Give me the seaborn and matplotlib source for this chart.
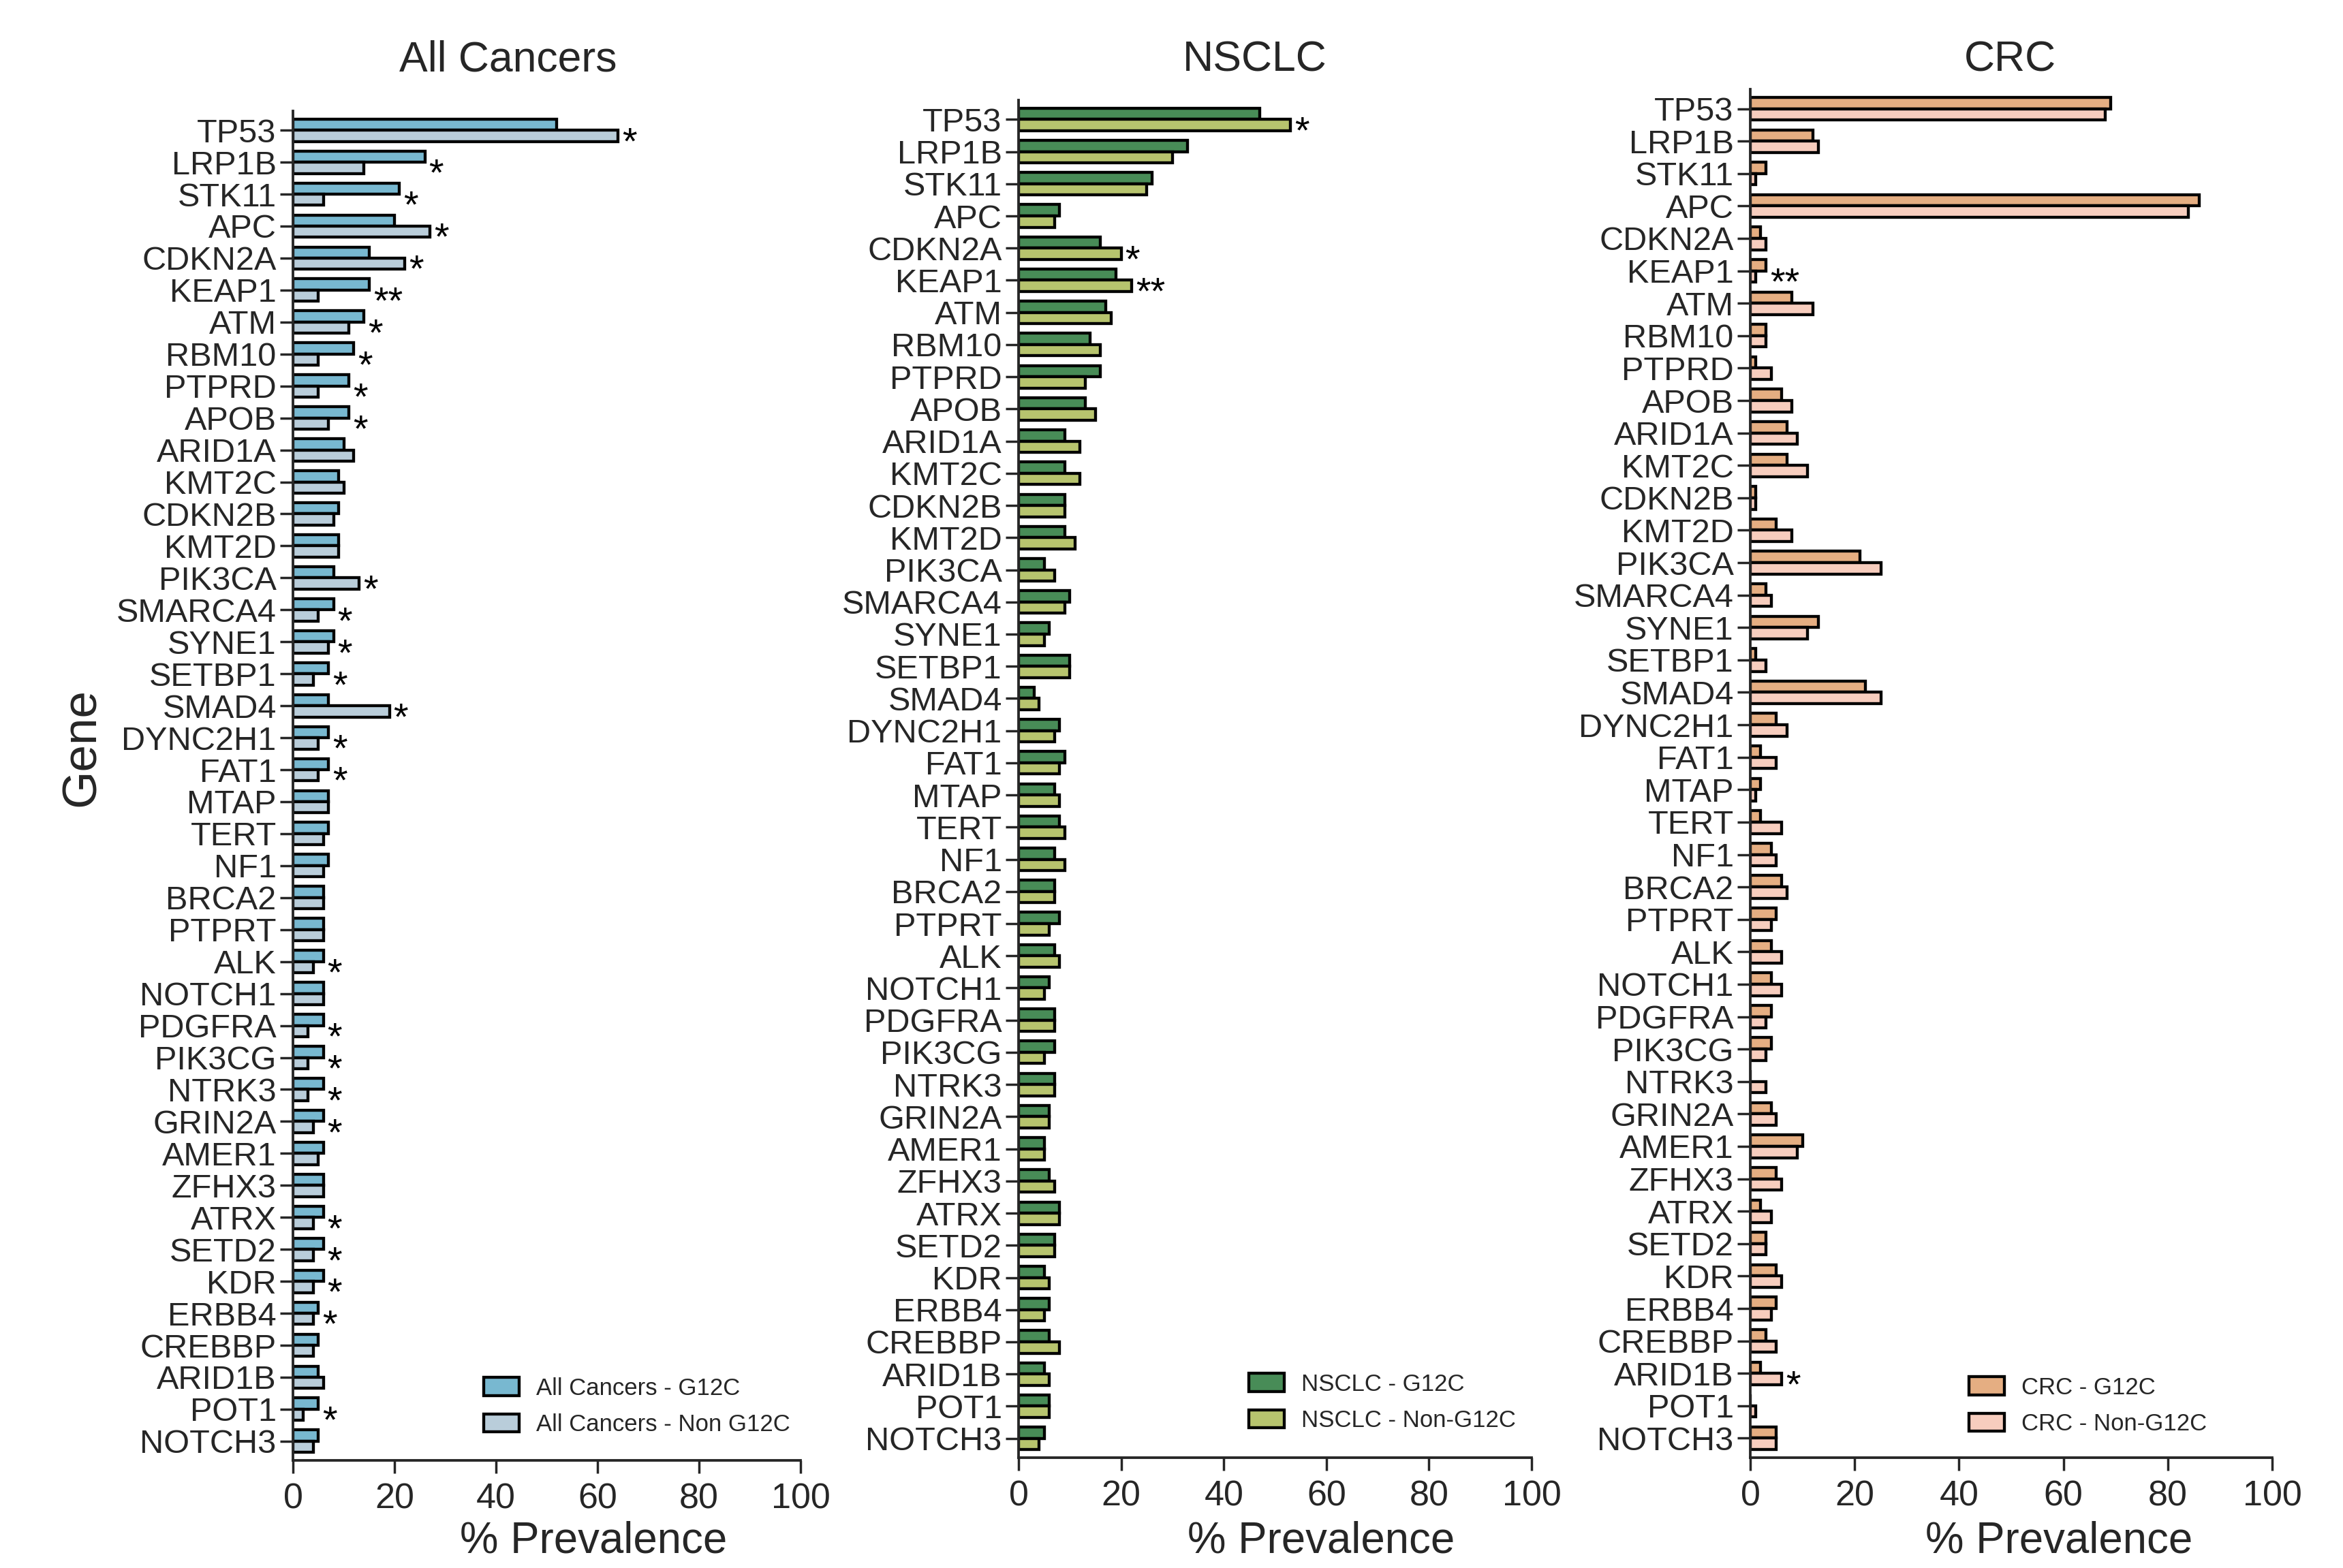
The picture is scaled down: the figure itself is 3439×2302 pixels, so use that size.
import numpy as np
import pandas as pd
import matplotlib
matplotlib.use("Agg")
import matplotlib.pyplot as plt
import seaborn as sns

# ---------------- data ----------------
genes = ["TP53", "LRP1B", "STK11", "APC", "CDKN2A", "KEAP1", "ATM", "RBM10", "PTPRD",
         "APOB", "ARID1A", "KMT2C", "CDKN2B", "KMT2D", "PIK3CA", "SMARCA4", "SYNE1",
         "SETBP1", "SMAD4", "DYNC2H1", "FAT1", "MTAP", "TERT", "NF1", "BRCA2", "PTPRT",
         "ALK", "NOTCH1", "PDGFRA", "PIK3CG", "NTRK3", "GRIN2A", "AMER1", "ZFHX3", "ATRX",
         "SETD2", "KDR", "ERBB4", "CREBBP", "ARID1B", "POT1", "NOTCH3"]

all_g12c = [52, 26, 21, 20, 15, 15, 14, 12, 11, 11, 10, 9, 9, 9,
            8, 8, 8, 7, 7, 7, 7, 7, 7, 7,
            6, 6, 6, 6, 6, 6, 6, 6, 6, 6, 6, 6, 6,
            5, 5, 5, 5, 5]
all_non = [64, 14, 6, 27, 22, 5, 11, 5, 5, 7, 12, 10, 8, 9,
           13, 5, 7, 4, 19, 5, 5, 7, 6, 6,
           6, 6, 4, 6, 3, 3, 3, 4, 5, 6, 4, 4, 4,
           4, 4, 6, 2, 4]
nsclc_g12c = [47, 33, 26, 8, 16, 19, 17, 14, 16, 13, 9, 9, 9, 9,
              5, 10, 6, 10, 3, 8, 9, 7, 8, 7,
              7, 8, 7, 6, 7, 7, 7, 6, 5, 6, 8, 7, 5,
              6, 6, 5, 6, 5]
nsclc_non = [53, 30, 25, 7, 20, 22, 18, 16, 13, 15, 12, 12, 9, 11,
             7, 9, 5, 10, 4, 7, 8, 8, 9, 9,
             7, 6, 8, 5, 7, 5, 7, 6, 5, 7, 8, 7, 6,
             5, 8, 6, 6, 4]
crc_g12c = [69, 12, 3, 86, 2, 3, 8, 3, 1, 6, 7, 7, 1, 5,
            21, 3, 13, 1, 22, 5, 2, 2, 2, 4,
            6, 5, 4, 4, 4, 4, 0, 4, 10, 5, 2, 3, 5,
            5, 3, 2, 0, 5]
crc_non = [68, 13, 1, 84, 3, 1, 12, 3, 4, 8, 9, 11, 1, 8,
           25, 4, 11, 3, 25, 7, 5, 1, 6, 5,
           7, 4, 6, 6, 3, 3, 3, 5, 9, 6, 4, 3, 6,
           4, 5, 6, 1, 5]

all_sig = {"TP53": "*", "LRP1B": "*", "STK11": "*", "APC": "*", "CDKN2A": "*",
           "KEAP1": "**", "ATM": "*", "RBM10": "*", "PTPRD": "*", "APOB": "*",
           "PIK3CA": "*", "SMARCA4": "*", "SYNE1": "*", "SETBP1": "*", "SMAD4": "*",
           "DYNC2H1": "*", "FAT1": "*", "ALK": "*", "PDGFRA": "*", "PIK3CG": "*",
           "NTRK3": "*", "GRIN2A": "*", "ATRX": "*", "SETD2": "*", "KDR": "*",
           "ERBB4": "*", "POT1": "*"}
nsclc_sig = {"TP53": "*", "CDKN2A": "*", "KEAP1": "**"}
crc_sig = {"KEAP1": "**", "ARID1B": "*"}

titles = ["All Cancers", "NSCLC", "CRC"]
series_labels = [["All Cancers - G12C", "All Cancers - Non G12C"],
                 ["NSCLC - G12C", "NSCLC - Non-G12C"],
                 ["CRC - G12C", "CRC - Non-G12C"]]
x_ticks = [0, 20, 40, 60, 80, 100]

# ---------------- style ----------------
sns.set_style("ticks")
plt.rcParams["font.family"] = ["Liberation Sans", "DejaVu Sans"]
plt.rcParams["axes.linewidth"] = 1.1

W, H = 3439, 2302
fig = plt.figure(figsize=(W / 250, H / 250), dpi=250)

palettes = [["#78B8D0", "#B9CDDA"],
            ["#488C57", "#B7C46E"],
            ["#E5AE82", "#F7CDBE"]]

# axes rects in pixel coordinates (left, top, right, bottom)
rects_px = [(430, 163, 1175, 2144),
            (1495, 147, 2248, 2140),
            (2569, 131, 3335, 2140)]
title_x_px = [746, 1842, 2950]
xlabel_x_px = [871, 1939, 3022]
legend_px = [(710, 2065), (1833, 2059), (2890, 2064)]

panels = [(all_g12c, all_non, all_sig),
          (nsclc_g12c, nsclc_non, nsclc_sig),
          (crc_g12c, crc_non, crc_sig)]

for i, (g12c, non, sig) in enumerate(panels):
    l, t, r, b = rects_px[i]
    ax = fig.add_axes([l / W, 1 - b / H, (r - l) / W, (b - t) / H])
    labs = series_labels[i]
    df = pd.DataFrame({
        "gene": genes * 2,
        "value": list(g12c) + list(non),
        "group": [labs[0]] * len(genes) + [labs[1]] * len(genes),
    })
    sns.barplot(data=df, x="value", y="gene", hue="group", orient="h",
                order=genes, hue_order=labs, palette=palettes[i],
                saturation=1, width=0.7, edgecolor="black", linewidth=1.25,
                ax=ax, legend=True)
    ax.set_xlim(0, 100)
    ax.set_ylim(len(genes) - 0.4, -0.6)
    ax.set_xticks(x_ticks)
    ax.set_xlabel("")
    ax.set_ylabel("")
    sns.despine(ax=ax)
    ax.tick_params(axis="y", length=5.5, width=1.0, pad=1.5, labelsize=14)
    ax.tick_params(axis="x", length=5.5, width=1.0, pad=4, labelsize=15)

    # significance marks
    for j, gname in enumerate(genes):
        if gname in sig:
            xm = max(g12c[j], non[j]) + 0.8
            ax.text(xm, j + 0.72, sig[gname], ha="left", va="baseline",
                    fontsize=16, color="black")

    # legend
    h, lb = ax.get_legend_handles_labels()
    lx, ly = legend_px[i]
    ax.legend(h, lb, loc="center left", bbox_to_anchor=(lx / W, 1 - ly / H),
              bbox_transform=fig.transFigure, frameon=False, fontsize=10,
              handlelength=1.5, handleheight=0.78, labelspacing=0.6,
              handletextpad=0.72, borderpad=0, borderaxespad=0)

    fig.text(title_x_px[i] / W, 1 - 88 / H, titles[i], ha="center", va="center",
             fontsize=18)
    fig.text(xlabel_x_px[i] / W, 1 - 2262 / H, "% Prevalence", ha="center",
             va="center", fontsize=18.3)

fig.text(121 / W, 1 - 1097 / H, "Gene", ha="center", va="center",
         rotation=90, fontsize=20.5)

fig.savefig("out.png", dpi=250)
